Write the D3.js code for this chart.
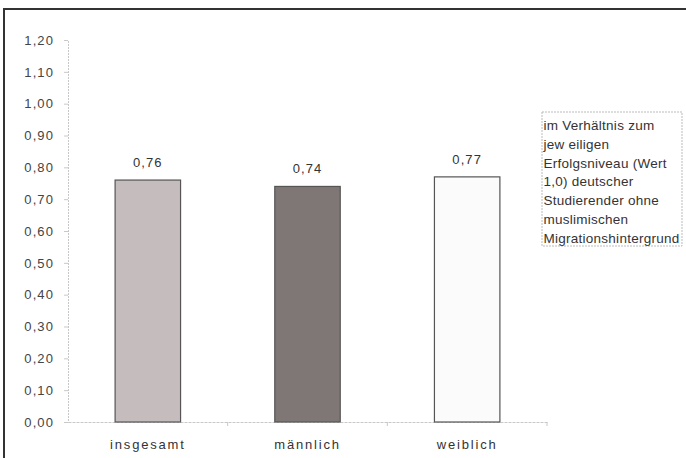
<!DOCTYPE html>
<html><head><meta charset="utf-8">
<script src="https://cdn.jsdelivr.net/npm/d3@7"></script>
<style>body{margin:0;background:#fff;}svg{display:block;font-family:Arial,"Liberation Sans",sans-serif;}</style>
</head><body>
<svg id="c" width="686" height="458"></svg>
<script>
const categories = ["insgesamt", "männlich", "weiblich"];
const values = [0.76, 0.74, 0.77];
const valueLabels = ["0,76", "0,74", "0,77"];
const barColors = ["#c5bdbd", "#7f7676", "#fbfbfb"];
const yTicks = [0, 0.1, 0.2, 0.3, 0.4, 0.5, 0.6, 0.7, 0.8, 0.9, 1.0, 1.1, 1.2];
const legendLines = ["im Verhältnis zum", "jew eiligen", "Erfolgsniveau (Wert", "1,0) deutscher", "Studierender ohne", "muslimischen", "Migrationshintergrund"];

const svg = d3.select("#c");
// outer frame
svg.append("rect").attr("x", 4).attr("y", 9).attr("width", 720).attr("height", 480)
  .attr("fill", "none").attr("stroke", "#333").attr("stroke-width", 2);

const x = d3.scaleBand().domain(categories).range([68, 547]).padding(0);
const y = d3.scaleLinear().domain([0, 1.2]).range([422, 40]);
const fmt = d => d3.format(".2f")(d).replace(".", ",");

// y axis
const ya = svg.append("g").attr("transform", "translate(68,0)")
  .call(d3.axisLeft(y).tickValues(yTicks).tickFormat(fmt).tickSize(4).tickPadding(10));
ya.select(".domain").attr("stroke", "#c8c8c8").attr("stroke-dasharray", "2,1");
ya.selectAll(".tick line").attr("stroke", "#c8c8c8");
ya.selectAll(".tick text").attr("fill", "#444").attr("font-size", 13).style("letter-spacing", "1.1px");

// x axis
const xa = svg.append("g").attr("transform", "translate(0,422)")
  .call(d3.axisBottom(x).tickSize(0).tickPadding(18));
xa.select(".domain").attr("stroke", "#c8c8c8").attr("stroke-dasharray", "3,1");
xa.selectAll(".tick text").attr("fill", "#333").attr("font-size", 13).style("letter-spacing", "1.8px");
// category boundary ticks
xa.selectAll(".bt").data(categories).enter().append("line")
  .attr("class", "bt")
  .attr("x1", d => x(d) + x.bandwidth()).attr("x2", d => x(d) + x.bandwidth())
  .attr("y1", 0).attr("y2", 4).attr("stroke", "#c8c8c8");

const bw = x.bandwidth() * 0.41;
const bars = svg.append("g");
bars.selectAll("rect").data(values).enter().append("rect")
  .attr("x", (d, i) => x(categories[i]) + x.bandwidth() / 2 - bw / 2)
  .attr("y", d => y(d))
  .attr("width", bw)
  .attr("height", d => y(0) - y(d))
  .attr("fill", (d, i) => barColors[i])
  .attr("stroke", "#555").attr("stroke-width", 1.2);

bars.selectAll("text").data(values).enter().append("text")
  .attr("x", (d, i) => x(categories[i]) + x.bandwidth() / 2)
  .attr("y", d => y(d) - 13)
  .attr("text-anchor", "middle").attr("font-size", 13).attr("fill", "#333")
  .style("letter-spacing", "1.1px")
  .text((d, i) => valueLabels[i]);

// legend box
const lg = svg.append("g");
lg.append("rect").attr("x", 542).attr("y", 112).attr("width", 140).attr("height", 134)
  .attr("fill", "#fff").attr("stroke", "#bbb").attr("stroke-dasharray", "2,1");
const lt = lg.selectAll("text").data(legendLines).enter().append("text")
  .attr("x", 543.5).attr("y", (d, i) => 130 + i * 18.8)
  .attr("font-size", 12).attr("fill", "#333").style("letter-spacing", "-0.2px")
  .text(d => d);
// fit longest line to the box width
let maxW = 0;
lt.each(function () { maxW = Math.max(maxW, this.getComputedTextLength()); });
const fs = Math.min(13.5, 12 * 136 / maxW);
lt.attr("font-size", fs);
let maxW2 = 0;
lt.each(function () { maxW2 = Math.max(maxW2, this.getComputedTextLength()); });
if (maxW2 < 136) lt.style("letter-spacing", ((136 - maxW2) / 21 - 0.2) + "px");
</script>
</body></html>
